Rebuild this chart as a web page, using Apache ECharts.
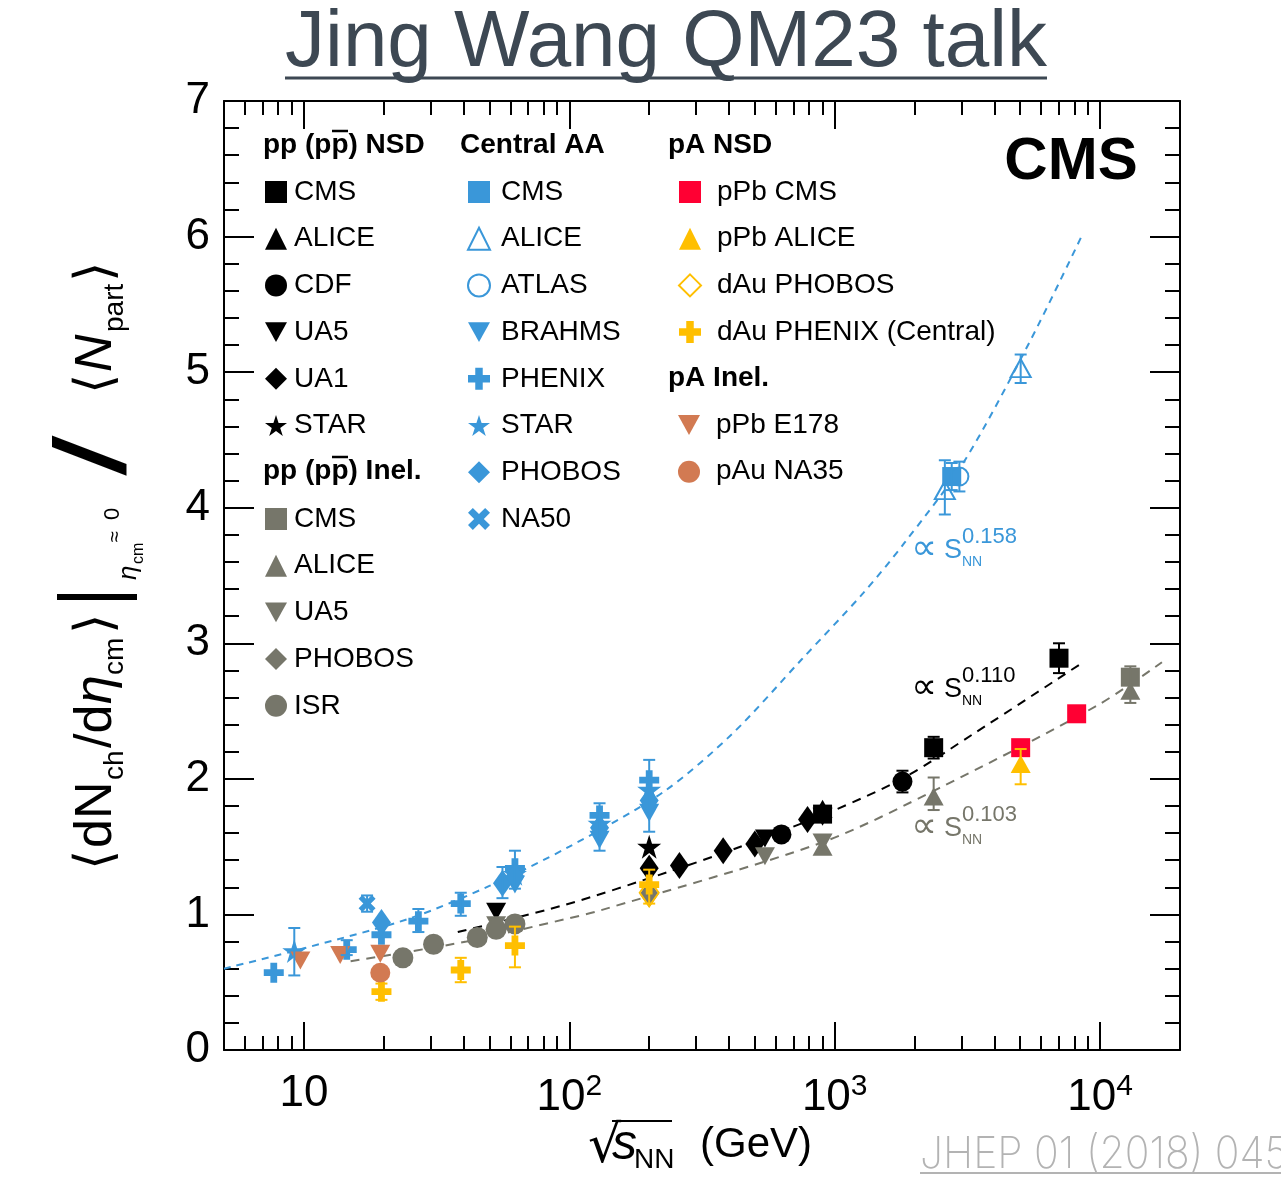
<!DOCTYPE html>
<html>
<head>
<meta charset="utf-8">
<script src="https://cdn.jsdelivr.net/npm/echarts@6/dist/echarts.min.js"></script>
<style>
html, body { margin: 0; padding: 0; background: #fff; }
#main { width: 1281px; height: 1181px; }
</style>
</head>
<body>
<div id="main"></div>
<script>
// ---- data: [sqrt(s_NN) in GeV, value] ----
// pp (ppbar) NSD
var ppNsdCMS = [[900, 1.74], [2360, 2.23], [7000, 2.89]];
var ppNsdALICE = [[900, 1.78]];
var ppNsdCDF = [[630, 1.59], [1800, 1.98]];
var ppNsdUA5 = [[53, 1.02], [546, 1.56], [900, 1.72]];
var ppNsdUA1 = [[200, 1.34], [260, 1.36], [380, 1.47], [500, 1.52], [790, 1.70]];
var ppNsdSTAR = [[200, 1.50]];
// pp (ppbar) inelastic
var ppInelCMS = [[13000, 2.75]];
var ppInelALICE = [[900, 1.50], [2360, 1.87], [13000, 2.65]];
var ppInelUA5 = [[53, 0.92], [546, 1.43], [900, 1.53]];
var ppInelPHOBOS = [[200, 1.15]];
var ppInelISR = [[23.6, 0.68], [30.8, 0.78], [45, 0.83], [53, 0.89], [62.4, 0.93]];
// central AA
var aaCMS = [[2760, 4.23]];
var aaALICE = [[2600, 4.13], [5020, 5.03]];
var aaATLAS = [[2950, 4.23]];
var aaBRAHMS = [[62.4, 1.22], [130, 1.55], [200, 1.75]];
var aaPHENIX = [[7.7, 0.57], [14.5, 0.74], [19.6, 0.85], [27, 0.95], [39, 1.08], [62.4, 1.34], [130, 1.73], [200, 1.99]];
var aaSTAR = [[9.2, 0.73], [62.4, 1.30], [130, 1.67], [200, 1.92]];
var aaPHOBOS = [[19.6, 0.94], [56, 1.23], [62.4, 1.28], [130, 1.64], [200, 1.84]];
var aaNA50 = [[17.3, 1.08]];
// pA NSD
var pPbCMS = [[5020, 2.23], [8160, 2.48]];
var pPbALICE = [[5020, 2.11]];
var dAuPHOBOS = [[200, 1.16]];
var dAuPHENIX = [[19.6, 0.43], [39, 0.59], [62.4, 0.77], [200, 1.22]];
// pA inelastic
var pPbE178 = [[9.7, 0.66], [13.7, 0.70], [19.4, 0.71]];
var pAuNA35 = [[19.4, 0.57]];

// error bars [x, low, high]
var errBlue = [[9.2, 0.55, 0.90], [14.5, 0.70, 0.81], [17.3, 1.02, 1.14], [27, 0.87, 1.04], [39, 0.99, 1.16],
  [56, 1.12, 1.35], [62.4, 1.19, 1.47], [130, 1.47, 1.82], [200, 1.61, 2.14],
  [2600, 3.95, 4.35], [2760, 4.13, 4.33], [2950, 4.12, 4.34], [5020, 4.92, 5.13]];
var errBlack = [[1800, 1.90, 2.06], [2360, 2.15, 2.31], [7000, 2.78, 3.00]];
var errGrey = [[2360, 1.77, 2.01], [13000, 2.56, 2.83]];
var errYellow = [[19.6, 0.37, 0.49], [39, 0.50, 0.68], [62.4, 0.61, 0.91], [200, 1.08, 1.33], [5020, 1.96, 2.22]];

// dashed power-law fits
var fitAA = [[5, 0.60], [10, 0.75], [25, 0.97], [50, 1.21], [100, 1.50], [225, 1.90], [410, 2.33], [750, 2.88],
  [1280, 3.37], [1830, 3.74], [3050, 4.33], [5450, 5.23], [8600, 6.02]];
var fitNsd = [[38, 0.87], [96, 1.07], [233, 1.31], [428, 1.49], [1000, 1.77], [1830, 2.01], [3320, 2.33], [8630, 2.86]];
var fitInel = [[15, 0.655], [41, 0.80], [96, 0.964], [131, 1.03], [893, 1.53], [2466, 1.93], [9730, 2.54], [17100, 2.86]];

// axis ticks
var majorX = [10, 100, 1000, 10000];
var minorX = [6, 7, 8, 9, 20, 30, 40, 50, 60, 70, 80, 90, 200, 300, 400, 500, 600, 700, 800, 900,
  2000, 3000, 4000, 5000, 6000, 7000, 8000, 9000];

var FONT = '"Liberation Sans", Arial, Helvetica, sans-serif';
var BLUE = '#3a97d9', GREY = '#76766a', RED = '#ff0033', YEL = '#ffbf00', BROWN = '#d27a52';

var triDown = 'path://M0,0 L10,0 L5,9 Z';
var starPath = 'path://M50,0 L61.2,34.5 L97.6,34.5 L68.2,55.9 L79.4,90.5 L50,69.1 L20.6,90.5 L31.8,55.9 L2.4,34.5 L38.8,34.5 Z';
var plusPath = 'path://M3.3,0 L6.7,0 L6.7,3.3 L10,3.3 L10,6.7 L6.7,6.7 L6.7,10 L3.3,10 L3.3,6.7 L0,6.7 L0,3.3 L3.3,3.3 Z';
var xPath = 'path://M2.2,0 L5,2.8 L7.8,0 L10,2.2 L7.2,5 L10,7.8 L7.8,10 L5,7.2 L2.2,10 L0,7.8 L2.8,5 L0,2.2 Z';

function sc(name, data, symbol, size, color, open) {
  return {
    name: name, type: 'scatter', data: data, symbol: symbol, symbolSize: size, z: 5,
    itemStyle: open ? { color: 'rgba(255,255,255,0)', borderColor: color, borderWidth: 2, opacity: 1 }
                    : { color: color, opacity: 1 }
  };
}

function errSeries(data, color) {
  return {
    type: 'custom', data: data, encode: { x: 0, y: [1, 2] }, z: 6, silent: true,
    renderItem: function (params, api) {
      var x = api.value(0);
      var top = api.coord([x, api.value(2)]);
      var bot = api.coord([x, api.value(1)]);
      var c = 6, st = { stroke: color, lineWidth: 2 };
      return {
        type: 'group', children: [
          { type: 'line', shape: { x1: top[0], y1: top[1], x2: bot[0], y2: bot[1] }, style: st },
          { type: 'line', shape: { x1: top[0] - c, y1: top[1], x2: top[0] + c, y2: top[1] }, style: st },
          { type: 'line', shape: { x1: bot[0] - c, y1: bot[1], x2: bot[0] + c, y2: bot[1] }, style: st }
        ]
      };
    }
  };
}

function fitLine(data, color, dash) {
  return {
    type: 'line', data: data, symbol: 'none', smooth: 0.3, silent: true, z: 3,
    lineStyle: { color: color, width: 2, type: dash }
  };
}

var series = [
  fitLine(fitAA, BLUE, [7, 6]),
  fitLine(fitNsd, '#000', [9, 7]),
  fitLine(fitInel, GREY, [9, 7]),
  errSeries(errBlue, BLUE), errSeries(errBlack, '#000'), errSeries(errGrey, GREY), errSeries(errYellow, YEL),

  sc('a|CMS', ppNsdCMS, 'rect', 19, '#000'),
  sc('a|ALICE', ppNsdALICE, 'triangle', [20, 18], '#000'),
  sc('a|CDF', ppNsdCDF, 'circle', 20, '#000'),
  sc('a|UA5', ppNsdUA5, triDown, [20, 18], '#000'),
  sc('a|UA1', ppNsdUA1, 'diamond', [19, 27], '#000'),
  sc('a|STAR', ppNsdSTAR, starPath, 24, '#000'),

  sc('b|CMS', ppInelCMS, 'rect', 19, GREY),
  sc('b|ALICE', ppInelALICE, 'triangle', [20, 18], GREY),
  sc('b|UA5', ppInelUA5, triDown, [20, 18], GREY),
  sc('b|PHOBOS', ppInelPHOBOS, 'diamond', [19, 27], GREY),
  sc('b|ISR', ppInelISR, 'circle', 21, GREY),

  sc('c|CMS', aaCMS, 'rect', 19, BLUE),
  sc('c|ALICE', aaALICE, 'triangle', [20, 18], BLUE, true),
  sc('c|ATLAS', aaATLAS, 'circle', 18, BLUE, true),
  sc('c|BRAHMS', aaBRAHMS, triDown, [20, 18], BLUE),
  sc('c|PHENIX', aaPHENIX, plusPath, 20, BLUE),
  sc('c|STAR', aaSTAR, starPath, 24, BLUE),
  sc('c|PHOBOS', aaPHOBOS, 'diamond', [19, 27], BLUE),
  sc('c|NA50', aaNA50, xPath, 17, BLUE),

  sc('d|pPb CMS', pPbCMS, 'rect', 19, RED),
  sc('d|pPb ALICE', pPbALICE, 'triangle', [20, 18], YEL),
  sc('d|dAu PHOBOS', dAuPHOBOS, 'diamond', [19, 27], YEL, true),
  sc('d|dAu PHENIX (Central)', dAuPHENIX, plusPath, 20, YEL),

  sc('e|pPb E178', pPbE178, triDown, [20, 18], BROWN),
  sc('e|pAu NA35', pAuNA35, 'circle', 20, BROWN)
];

function legendCol(left, top, names, pad) {
  return {
    left: left, top: top, orient: 'vertical', data: names, padding: 0,
    itemWidth: 22, itemHeight: 22, itemGap: 18.7, selectedMode: false,
    formatter: function (n) { return n.split('|')[1]; },
    textStyle: { fontSize: 28, fontFamily: FONT, color: '#000', lineHeight: 28, padding: [0, 0, 0, pad] }
  };
}

var legends = [
  legendCol(265, 178, ['a|CMS', 'a|ALICE', 'a|CDF', 'a|UA5', 'a|UA1', 'a|STAR'], 2),
  legendCol(265, 505, ['b|CMS', 'b|ALICE', 'b|UA5', 'b|PHOBOS', 'b|ISR'], 2),
  legendCol(467, 178, ['c|CMS', 'c|ALICE', 'c|ATLAS', 'c|BRAHMS', 'c|PHENIX', 'c|STAR', 'c|PHOBOS', 'c|NA50'], 6),
  legendCol(678, 178, ['d|pPb CMS', 'd|pPb ALICE', 'd|dAu PHOBOS', 'd|dAu PHENIX (Central)'], 11),
  legendCol(678, 411, ['e|pPb E178', 'e|pAu NA35'], 11)
];

function txt(text, x, y, font, color, align) {
  return { type: 'text', silent: true, z: 20, style: { text: text, x: x, y: y, font: font, fill: color || '#000', textAlign: align || 'left', textVerticalAlign: 'middle' } };
}
function hline(x1, x2, y, color, w) {
  return { type: 'line', silent: true, z: 20, shape: { x1: x1, y1: y, x2: x2, y2: y }, style: { stroke: color || '#000', lineWidth: w || 2 } };
}
// "∝ S_NN^p" annotation next to a fit
function fitNote(exp, y, color) {
  return [
    txt('\u221D', 924, y, '36px "DejaVu Sans"', color, 'center'),
    txt('S', 944, y + 1, '27px ' + FONT, color),
    txt(exp, 962, y - 13, '22px ' + FONT, color),
    txt('NN', 962, y + 12, '14px ' + FONT, color)
  ];
}

// y-axis title, laid out along the rotated baseline
var yParts = [
  ['\u27E8', 2, 0, '52px "DejaVu Sans"'],
  ['dN', 24, 0, '52px ' + FONT],
  ['ch', 92, 18, '28px ' + FONT],
  ['/d', 124, 0, '52px ' + FONT],
  ['\u03B7', 168, 0, 'italic 52px ' + FONT],
  ['cm', 197, 18, '28px ' + FONT],
  ['\u27E9', 238, 0, '52px "DejaVu Sans"'],
  ['\u03B7', 292, 32, 'italic 26px ' + FONT],
  ['cm', 308, 42, '16px ' + FONT],
  ['\u2248', 330, 18, '20px ' + FONT],
  ['0', 352, 16, '22px ' + FONT],
  ['/', 400, 0, 'bold italic 100px ' + FONT],
  ['\u27E8', 478, 0, '52px "DejaVu Sans"'],
  ['N', 500, 0, 'italic 52px ' + FONT],
  ['part', 540, 18, '28px ' + FONT],
  ['\u27E9', 590, 0, '52px "DejaVu Sans"']
];
var yTitle = {
  type: 'group', x: 97, y: 872, rotation: Math.PI / 2, silent: true,
  children: yParts.map(function (p) { return txt(p[0], p[1], p[2], p[3]); }).concat([
    { type: 'rect', silent: true, shape: { x: 272, y: -40, width: 6, height: 80 }, style: { fill: '#000' } }
  ])
};

var citation = txt('JHEP 01 (2018) 045', 920, 1155, '200 44px Inter, ' + FONT, '#b3b3b3');
citation.scaleX = 0.93;
citation.originX = 920;
citation.originY = 1155;

var graphics = [
  txt('Jing Wang QM23 talk', 666, 44, '80px ' + FONT, '#3d4853', 'center'),
  hline(285, 1047, 78, '#3d4853', 3),
  txt('CMS', 1071, 162, 'bold 60px ' + FONT, '#000', 'center'),
  // legend headers
  txt('pp (pp) NSD', 263, 145, 'bold 28px ' + FONT),
  hline(332, 348, 131, '#000', 2.5),
  txt('pp (pp) Inel.', 263, 471, 'bold 28px ' + FONT),
  hline(332, 348, 457, '#000', 2.5),
  txt('Central AA', 460, 145, 'bold 28px ' + FONT),
  txt('pA NSD', 668, 145, 'bold 28px ' + FONT),
  txt('pA Inel.', 668, 378, 'bold 28px ' + FONT),
  // x-axis title
  txt('\u221A', 588, 1148, '52px "DejaVu Sans"'),
  hline(612, 672, 1121, '#000', 2),
  txt('s', 612, 1145, 'italic 50px ' + FONT),
  txt('NN', 634, 1160, '28px ' + FONT),
  txt('(GeV)', 700, 1145, '42px ' + FONT),
  // citation
  citation,
  hline(920, 1281, 1173, '#b3b3b3', 2),
  yTitle
].concat(fitNote('0.158', 550, BLUE), fitNote('0.110', 689, '#000'), fitNote('0.103', 828, GREY));

var axisBlack = { color: '#000', width: 2 };
function xAx(pos, major) {
  return {
    type: 'log', logBase: 10, min: 5, max: 20000, position: pos, gridIndex: 0,
    axisLine: { show: major, onZero: false, lineStyle: axisBlack },
    axisTick: { show: true, inside: true, length: major ? 28 : 14, lineStyle: axisBlack, customValues: major ? majorX : minorX },
    axisLabel: {
      show: major && pos === 'bottom', customValues: majorX, margin: 22, fontSize: 44, fontFamily: FONT, color: '#000',
      formatter: function (v) {
        var e = Math.round(Math.log10(v));
        return e === 1 ? '10' : '10{s|' + e + '}';
      },
      rich: { s: { fontSize: 30, fontFamily: FONT, color: '#000', verticalAlign: 'top', padding: [0, 0, 22, 0] } }
    },
    splitLine: { show: false }, minorTick: { show: false }
  };
}
function yAx(pos) {
  return {
    type: 'value', min: 0, max: 7, interval: 1, position: pos, gridIndex: 0,
    axisLine: { show: true, onZero: false, lineStyle: axisBlack },
    axisTick: { show: true, inside: true, length: 30, lineStyle: axisBlack },
    minorTick: { show: true, splitNumber: 5, length: 15, lineStyle: axisBlack },
    axisLabel: { show: pos === 'left', margin: 14, fontSize: 44, fontFamily: FONT, color: '#000' },
    splitLine: { show: false }
  };
}

var chart = echarts.init(document.getElementById('main'));
chart.setOption({
  backgroundColor: '#fff',
  animation: false,
  grid: { left: 224, top: 101, width: 956, height: 949, outerBoundsMode: 'none' },
  xAxis: [xAx('bottom', true), xAx('bottom', false), xAx('top', true), xAx('top', false)],
  yAxis: [yAx('left'), yAx('right')],
  legend: legends,
  series: series,
  graphic: graphics
});
window.onresize = function () { chart.resize(); };
</script>
</body>
</html>
